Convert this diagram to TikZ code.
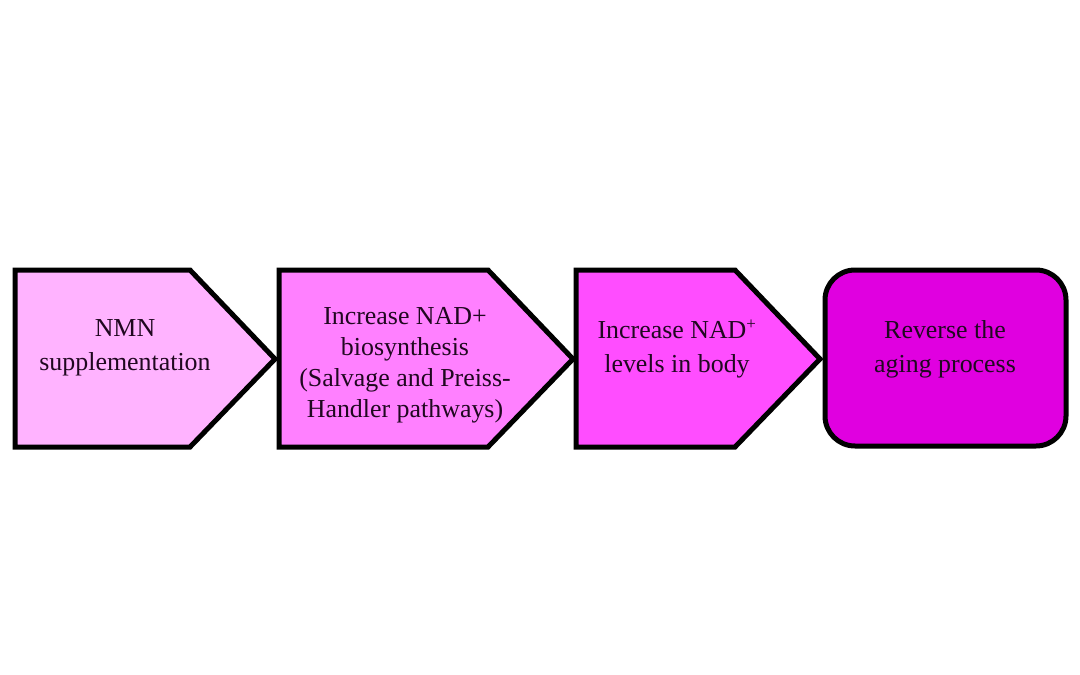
\documentclass[tikz,border=0pt]{standalone}
\usepackage{fontspec}
\setmainfont{Liberation Serif}
\definecolor{cA}{HTML}{FFB3FF}
\definecolor{cB}{HTML}{FF80FF}
\definecolor{cC}{HTML}{FF4DFF}
\definecolor{cD}{HTML}{E000E0}
\definecolor{txt}{HTML}{200820}
\begin{document}
\begin{tikzpicture}[x=1bp,y=-1bp,
  box/.style={draw=black,line width=5bp,line join=miter},
  lbl/.style={align=center,text=txt,inner sep=0pt,font=\fontsize{26}{34}\selectfont}]
\useasboundingbox (0,0) rectangle (1080,675);
% shapes
\draw[box,fill=cA] (15,270) -- (190,270) -- (275,359) -- (190,447) -- (15,447) -- cycle;
\draw[box,fill=cB] (279,270) -- (488,270) -- (573,359) -- (488,447) -- (279,447) -- cycle;
\draw[box,fill=cC] (576,270) -- (735,270) -- (820,359) -- (735,447) -- (576,447) -- cycle;
\draw[box,fill=cD,rounded corners=30bp] (825,270) rectangle (1066,446);
% labels
\node[lbl] (t1) at (125,348) {NMN\\supplementation};
\node[lbl,font=\fontsize{26}{31}\selectfont] (t2) at (405,365) {Increase NAD+\\biosynthesis\\(Salvage and Preiss-\\Handler pathways)};
\node[lbl] (t3) at (677,349) {Increase NAD\textsuperscript{\fontsize{17}{17}\selectfont+}\\levels in body};
\node[lbl] (t4) at (945,349) {Reverse the\\aging process};
\end{tikzpicture}
\end{document}
